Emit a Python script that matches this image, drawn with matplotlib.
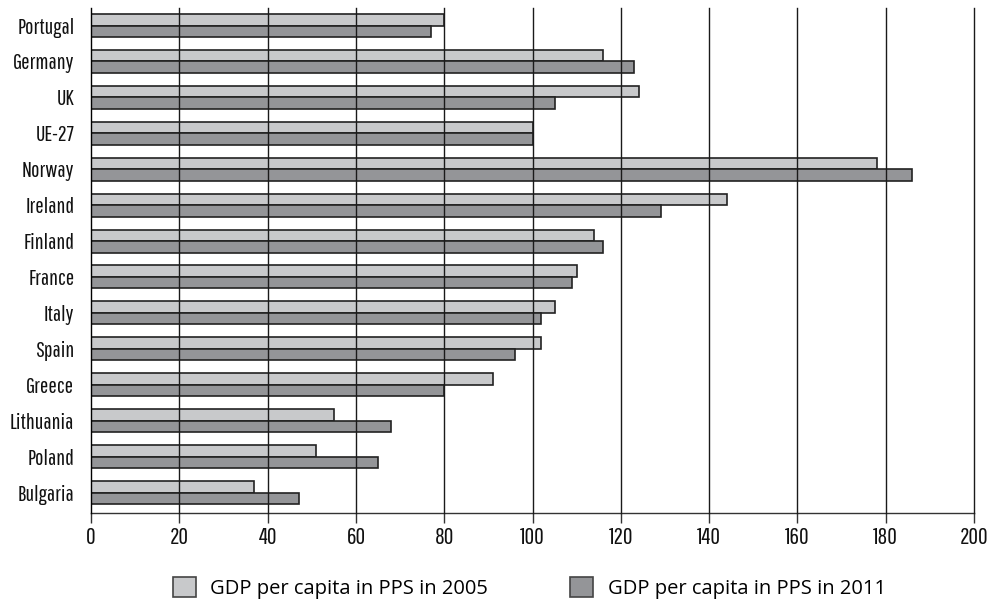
import numpy as np
import matplotlib.pyplot as plt
from matplotlib.patches import Patch

countries = ['Portugal', 'Germany', 'UK', 'UE-27', 'Norway', 'Ireland', 'Finland',
             'France', 'Italy', 'Spain', 'Greece', 'Lithuania', 'Poland', 'Bulgaria']
gdp_2005 = [80, 116, 124, 100, 178, 144, 114, 110, 105, 102, 91, 55, 51, 37]
gdp_2011 = [77, 123, 105, 100, 186, 129, 116, 109, 102, 96, 80, 68, 65, 47]
xticks = [0, 20, 40, 60, 80, 100, 120, 140, 160, 180, 200]

light = '#c8c9cb'
dark = '#949598'
edge = '#222222'
narrow = ['Pathway Gothic One', 'Roboto Condensed', 'DejaVu Sans']

fig = plt.figure(figsize=(9.95, 6.02), dpi=100)
ax = fig.add_axes([0.0915, 0.1478, 0.8875, 0.8389])

y = np.arange(len(countries))
h = 0.32
ax.barh(y - h / 2, gdp_2005, height=h, color=light, edgecolor=edge, linewidth=1.2, zorder=2)
ax.barh(y + h / 2, gdp_2011, height=h, color=dark, edgecolor=edge, linewidth=1.2, zorder=2)

# vertical grid drawn over the bars
for v in xticks[1:]:
    ax.axvline(v, color='#1a1a1a', linewidth=1.0, zorder=3, clip_on=False)

ax.set_xlim(0, 200)
ax.set_ylim(13.571, -0.487)
ax.set_xticks(xticks)
ax.set_yticks(y)
ax.set_yticklabels(countries, family=narrow, fontsize=16, color='#111111')
ax.set_xticklabels([str(t) for t in xticks], family=narrow, fontsize=17, color='#111111')

for s in ['top', 'right']:
    ax.spines[s].set_visible(False)
ax.spines['left'].set_zorder(4)
ax.spines['left'].set_linewidth(1.0)
ax.spines['bottom'].set_linewidth(1.0)
ax.spines['bottom'].set_color('#333333')
ax.tick_params(axis='y', length=0, pad=12)
ax.tick_params(axis='x', length=7, width=1.0, color='#333333', pad=3)

handles = [Patch(facecolor=light, edgecolor='#444444', linewidth=1.2),
           Patch(facecolor=dark, edgecolor='#444444', linewidth=1.2)]
fig.legend(handles, ['GDP per capita in PPS in 2005', 'GDP per capita in PPS in 2011'],
           loc='center', bbox_to_anchor=(0.532, 0.023), ncol=2, frameon=False,
           prop={'family': ['Open Sans', 'DejaVu Sans'], 'size': 14.5},
           handlelength=1.14, handleheight=1.1, handletextpad=0.7, columnspacing=4.1)

fig.savefig('out.png', dpi=100)
